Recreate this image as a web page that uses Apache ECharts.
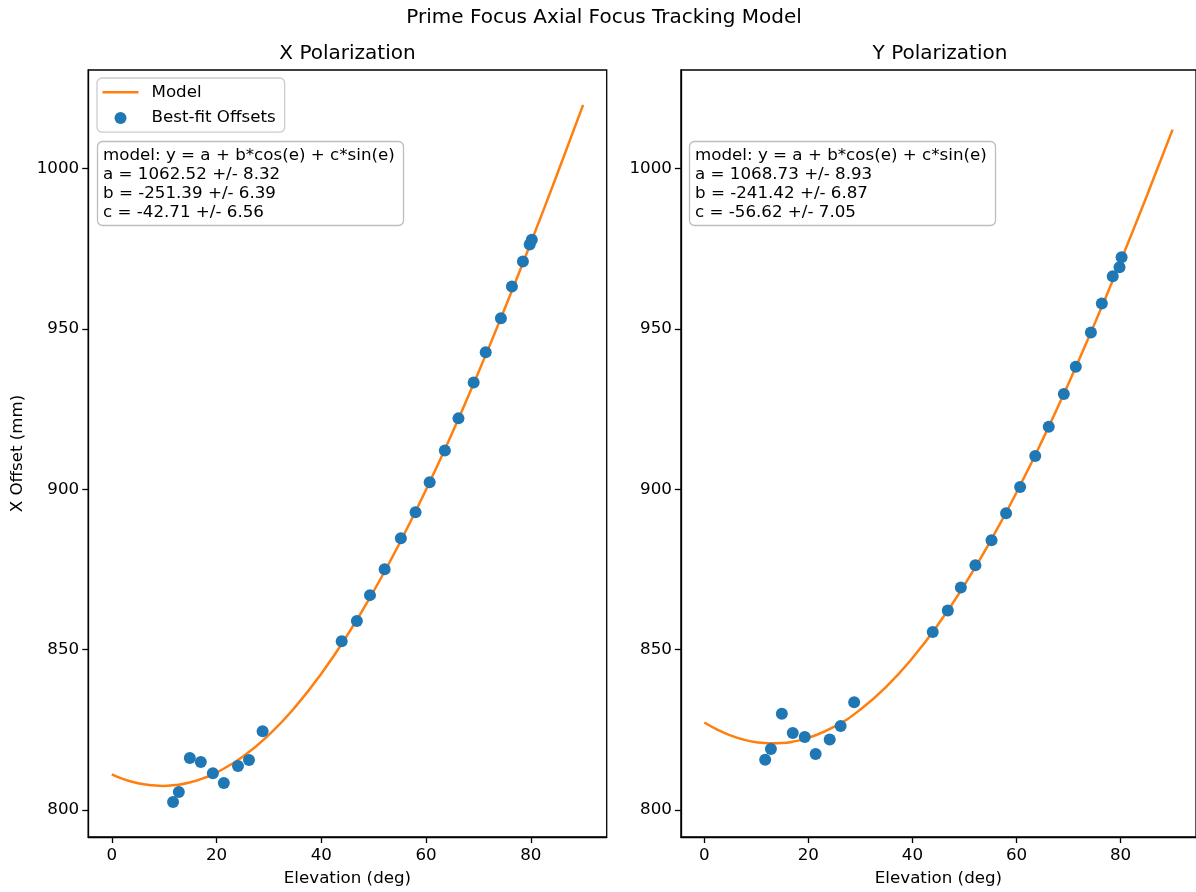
<!DOCTYPE html>
<html>
<head>
<meta charset="utf-8">
<script src="https://cdn.jsdelivr.net/npm/echarts@6/dist/echarts.min.js"></script>
<style>
html,body{margin:0;padding:0;background:#fff;}
#chart{width:1196px;height:892px;}
</style>
</head>
<body>
<div id="chart"></div>
<script>
// ---- data ----
const elevation = [11.7, 12.8, 14.9, 17.0, 19.3, 21.4, 24.1, 26.2, 28.8, 43.9, 46.8, 49.3, 52.1, 55.2, 58.0, 60.7, 63.6, 66.2, 69.1, 71.4, 74.3, 76.4, 78.5, 79.8, 80.2];
const xOffsets = [802.5, 805.6, 816.2, 815.0, 811.5, 808.4, 813.7, 815.6, 824.6, 852.6, 858.9, 867.0, 875.1, 884.7, 892.8, 902.2, 912.1, 922.1, 933.3, 942.7, 953.3, 963.2, 971.0, 976.3, 977.8];
const yOffsets = [815.7, 819.0, 830.0, 824.0, 822.8, 817.5, 822.0, 826.2, 833.6, 855.5, 862.2, 869.4, 876.3, 884.1, 892.5, 900.7, 910.4, 919.5, 929.7, 938.2, 948.9, 957.9, 966.4, 969.2, 972.3];
const modelElev = [0, 2.5, 5, 7.5, 10, 12.5, 15, 17.5, 20, 25, 30, 35, 40, 45, 50, 55, 60, 65, 70, 75, 80, 85, 90];
const modelX = [811.13, 809.47, 808.37, 807.76, 807.53, 807.83, 808.65, 809.95, 811.68, 816.63, 823.45, 832.09, 842.49, 854.56, 868.21, 883.34, 899.84, 917.57, 936.41, 956.20, 976.81, 998.06, 1019.81];
const modelY = [827.31, 825.08, 823.30, 821.98, 821.15, 820.81, 820.89, 821.49, 822.50, 826.00, 831.34, 838.49, 847.40, 857.98, 870.18, 883.88, 898.99, 915.39, 932.95, 951.56, 971.05, 991.29, 1012.11];
const xTicks = [0, 20, 40, 60, 80];
const yTicks = [800, 850, 900, 950, 1000];
const xText = ['model: y = a + b*cos(e) + c*sin(e)', 'a = 1062.52 +/- 8.32', 'b = -251.39 +/- 6.39', 'c = -42.71 +/- 6.56'];
const yText = ['model: y = a + b*cos(e) + c*sin(e)', 'a = 1068.73 +/- 8.93', 'b = -241.42 +/- 6.87', 'c = -56.62 +/- 7.05'];

const FONT = 'DejaVu Sans';
const BLUE = '#1f77b4', ORANGE = '#ff7f0e';
const zip = (a, b) => a.map((v, i) => [v, b[i]]);

function xAxis(idx) {
  return {
    type: 'value', gridIndex: idx, min: -4.5, max: 94.5,
    name: 'Elevation (deg)', nameLocation: 'middle', nameGap: 33,
    nameTextStyle: {fontFamily: FONT, fontSize: 16.7, color: '#000'},
    axisLine: {show: true, onZero: false, lineStyle: {color: '#000', width: 1.3}},
    axisTick: {show: true, length: 6, customValues: xTicks, lineStyle: {color: '#000', width: 1.3}},
    axisLabel: {customValues: xTicks, margin: 10, fontFamily: FONT, fontSize: 16.7, color: '#000', formatter: v => String(v)},
    splitLine: {show: false}
  };
}
function yAxis(idx, name) {
  return {
    type: 'value', gridIndex: idx, min: 791.6, max: 1030.7,
    name: name, nameLocation: 'middle', nameGap: 62,
    nameTextStyle: {fontFamily: FONT, fontSize: 16.7, color: '#000'},
    axisLine: {show: true, onZero: false, lineStyle: {color: '#000', width: 1.3}},
    axisTick: {show: true, length: 6, customValues: yTicks, lineStyle: {color: '#000', width: 1.3}},
    axisLabel: {customValues: yTicks, margin: 9, fontFamily: FONT, fontSize: 16.7, color: '#000', formatter: v => String(v)},
    splitLine: {show: false}
  };
}
function textBox(lines, left) {
  return {
    text: lines.join('\n'), left: left, top: 141,
    padding: [5, 9, 4, 6],
    borderColor: '#bdbdbd', borderWidth: 1.3, borderRadius: 5,
    backgroundColor: 'rgba(255,255,255,0.8)',
    textStyle: {fontFamily: FONT, fontSize: 16.7, fontWeight: 'normal', color: '#000', lineHeight: 19}
  };
}

const chart = echarts.init(document.getElementById('chart'), null, {renderer: 'canvas'});
chart.setOption({
  backgroundColor: '#fff',
  animation: false,
  title: [textBox(xText, 97), textBox(yText, 689)],
  graphic: [
    {type: 'text', x: 604, y: 18, style: {text: 'Prime Focus Axial Focus Tracking Model', font: '20px "DejaVu Sans"', fill: '#000', align: 'center', verticalAlign: 'middle'}},
    {type: 'text', x: 347.5, y: 53.5, style: {text: 'X Polarization', font: '20px "DejaVu Sans"', fill: '#000', align: 'center', verticalAlign: 'middle'}},
    {type: 'text', x: 940, y: 53.5, style: {text: 'Y Polarization', font: '20px "DejaVu Sans"', fill: '#000', align: 'center', verticalAlign: 'middle'}}
  ],
  legend: {
    orient: 'vertical', left: 97, top: 78,
    padding: [4.5, 9, 4.5, 5.5],
    borderColor: '#cccccc', borderWidth: 1.3, borderRadius: 5,
    backgroundColor: '#fff',
    itemWidth: 36, itemHeight: 12, itemGap: 6,
    textStyle: {fontFamily: FONT, fontSize: 16.7, color: '#000', lineHeight: 19.6, padding: [0, 0, 0, 8]},
    data: [
      {name: 'Model', icon: 'path://M0,0L0.01,0M0,4.7L36,4.7L36,7.3L0,7.3ZM0,12L0.01,12', itemStyle: {color: ORANGE, borderWidth: 0}},
      {name: 'Best-fit Offsets', icon: 'circle'}
    ]
  },
  grid: [
    {left: 88.2, right: 589.3, top: 70, bottom: 54, show: true, borderColor: '#000', borderWidth: 1.3, containLabel: false},
    {left: 680.9, right: -3.4, top: 70, bottom: 54, show: true, borderColor: '#000', borderWidth: 1.3, containLabel: false}
  ],
  xAxis: [xAxis(0), xAxis(1)],
  yAxis: [yAxis(0, 'X Offset (mm)'), yAxis(1, '')],
  series: [
    {name: 'Model', type: 'line', xAxisIndex: 0, yAxisIndex: 0, data: zip(modelElev, modelX), smooth: true, symbol: 'none', lineStyle: {color: ORANGE, width: 2.5}, itemStyle: {color: ORANGE}, z: 2},
    {name: 'Best-fit Offsets', type: 'scatter', xAxisIndex: 0, yAxisIndex: 0, data: zip(elevation, xOffsets), symbolSize: 12, itemStyle: {color: BLUE, opacity: 1}, z: 3},
    {name: 'Model', type: 'line', xAxisIndex: 1, yAxisIndex: 1, data: zip(modelElev, modelY), smooth: true, symbol: 'none', lineStyle: {color: ORANGE, width: 2.5}, itemStyle: {color: ORANGE}, z: 2},
    {name: 'Best-fit Offsets', type: 'scatter', xAxisIndex: 1, yAxisIndex: 1, data: zip(elevation, yOffsets), symbolSize: 12, itemStyle: {color: BLUE, opacity: 1}, z: 3}
  ]
});
</script>
</body>
</html>
